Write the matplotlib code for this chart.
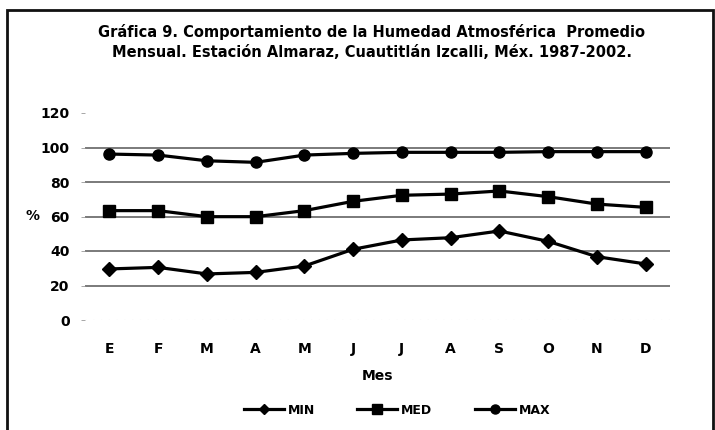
import matplotlib.pyplot as plt
from matplotlib.patches import Rectangle
from matplotlib.lines import Line2D

plt.rcParams['font.family'] = ['DejaVu Sans']
plt.rcParams['font.weight'] = 'bold'

meses = ["E", "F", "M", "A", "M", "J", "J", "A", "S", "O", "N", "D"]
hum_min = [29.6, 30.5, 26.7, 27.6, 31.3, 41.0, 46.4, 47.7, 51.6, 45.6, 36.7, 32.5]
hum_med = [63.4, 63.4, 59.9, 59.9, 63.4, 68.8, 72.3, 73.0, 74.8, 71.5, 67.2, 65.3]
hum_max = [96.2, 95.6, 92.3, 91.4, 95.6, 96.6, 97.2, 97.2, 97.2, 97.6, 97.6, 97.6]
y_ticks = [0, 20, 40, 60, 80, 100, 120]

titulo = ("Gráfica 9. Comportamiento de la Humedad Atmosférica  Promedio\n"
          "Mensual. Estación Almaraz, Cuautitlán Izcalli, Méx. 1987-2002.")

fig = plt.figure(figsize=(7.15, 4.3), dpi=100)
fig.patch.set_facecolor("white")

# marco exterior del gráfico
fig.add_artist(Rectangle((7 / 715, -0.05), 706 / 715, 1.05 - 10 / 430,
                         transform=fig.transFigure, fill=False,
                         edgecolor="#111111", linewidth=2.0))

ax = fig.add_axes([85 / 715, 1 - 320 / 430, 585 / 715, 207 / 430])
x = list(range(len(meses)))

ax.plot(x, hum_min, color="black", lw=2.3, marker="D", ms=7, label="MIN")
ax.plot(x, hum_med, color="black", lw=2.3, marker="s", ms=8, label="MED")
ax.plot(x, hum_max, color="black", lw=2.3, marker="o", ms=8, label="MAX")

ax.set_xlim(-0.5, len(meses) - 0.5)
ax.set_ylim(0, 120)
ax.set_yticks(y_ticks)
ax.set_xticks(x)
ax.set_xticklabels(meses)
ax.tick_params(axis="x", labelsize=10, length=0, pad=16)
ax.tick_params(axis="y", labelsize=10, length=3, width=0.6,
               color="#999999", pad=8)
for lbl in ax.get_xticklabels() + ax.get_yticklabels():
    lbl.set_fontweight("bold")

for v in y_ticks[1:-1]:
    ax.axhline(v, color="#6f6f6f", lw=1.3, zorder=0)
ax.axhline(0, color="#bbbbbb", lw=0.8, ls=(0, (1, 6)), zorder=0)
for s in ax.spines.values():
    s.set_visible(False)

ax.set_xlabel("Mes", fontsize=10, fontweight="bold", labelpad=9)
fig.text(33 / 715, 1 - 216 / 430, "%", fontsize=10, fontweight="bold",
         ha="center", va="center")

fig.text(372 / 715, 1 - 42 / 430, titulo, fontsize=10.5, fontweight="bold",
         ha="center", va="center", linespacing=1.45)

handles = [
    Line2D([], [], color="black", lw=2.3, marker="D", ms=5.5),
    Line2D([], [], color="black", lw=2.3, marker="s", ms=6.5),
    Line2D([], [], color="black", lw=2.3, marker="o", ms=6.5),
]
fig.legend(handles, ["MIN", "MED", "MAX"], loc="center",
           bbox_to_anchor=(397 / 715, 1 - 410 / 430), ncol=3, frameon=False,
           prop={"size": 9, "weight": "bold"}, handlelength=3.2,
           handletextpad=0.3, columnspacing=3.4)

fig.savefig("out.png", dpi=100)
